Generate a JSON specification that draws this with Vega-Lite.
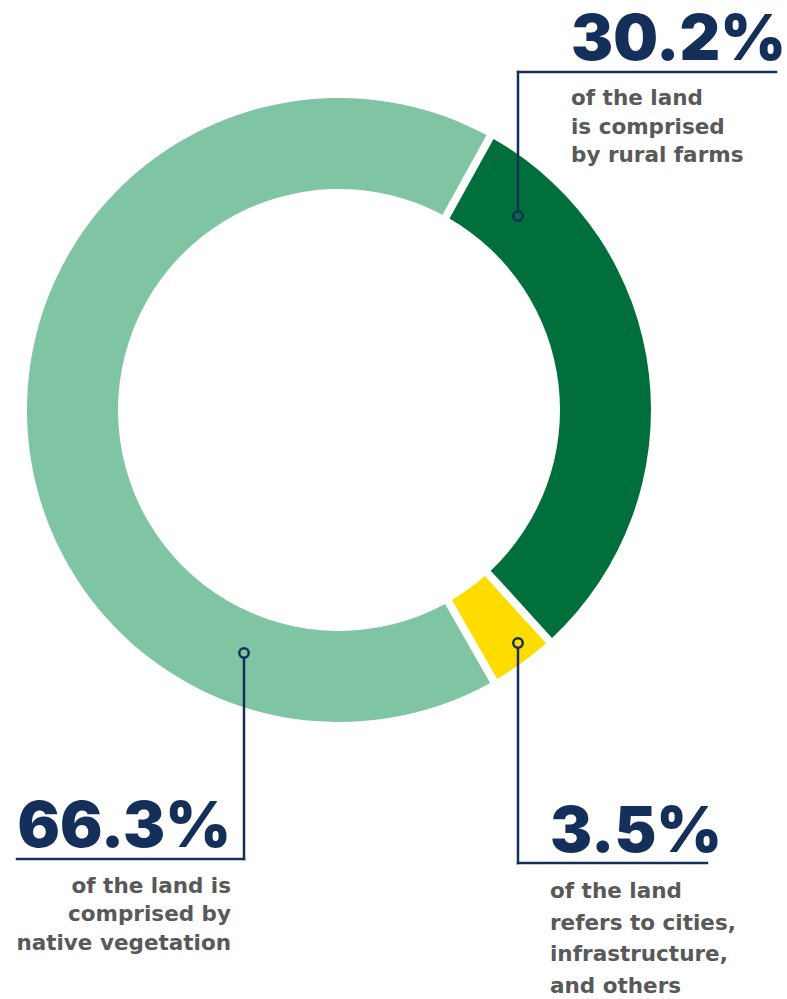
{
  "$schema": "https://vega.github.io/schema/vega-lite/v6.json",
  "width": 787,
  "height": 999,
  "autosize": {"type": "fit", "contains": "padding"},
  "padding": 0,
  "background": "white",
  "config": {"view": {"stroke": null}},
  "datasets": {
    "shares": [
      {"category": "Native vegetation", "share": 66.3},
      {"category": "Rural farms", "share": 30.2},
      {"category": "Cities, infrastructure and others", "share": 3.5}
    ],
    "leaders": [
      {"x": 518, "y": 211, "x2": 518, "y2": 72},
      {"x": 518, "y": 72, "x2": 776, "y2": 72},
      {"x": 244, "y": 658, "x2": 244, "y2": 859},
      {"x": 17, "y": 859, "x2": 244, "y2": 859},
      {"x": 518, "y": 648, "x2": 518, "y2": 863},
      {"x": 518, "y": 863, "x2": 707, "y2": 863}
    ],
    "dots": [
      {"x": 518, "y": 216},
      {"x": 244, "y": 653},
      {"x": 518, "y": 643}
    ],
    "figures": [
      {"label": "30.2%", "x": 571, "y": 60, "side": "left"},
      {"label": "66.3%", "x": 231, "y": 847, "side": "right"},
      {"label": "3.5%", "x": 550, "y": 852, "side": "left"}
    ],
    "notes": [
      {"label": "of the land\nis comprised\nby rural farms", "x": 571, "y": 105, "group": "a"},
      {"label": "of the land is\ncomprised by\nnative vegetation", "x": 231, "y": 893, "group": "b"},
      {"label": "of the land\nrefers to cities,\ninfrastructure,\nand others", "x": 550, "y": 898, "group": "c"}
    ]
  },
  "layer": [
    {
      "data": {"name": "shares"},
      "mark": {"type": "arc", "innerRadius": 221, "outerRadius": 312, "padAngle": 0.021},
      "encoding": {
        "x": {"datum": 339, "type": "quantitative", "scale": {"domain": [0, 787], "nice": false, "zero": false}, "axis": null},
        "y": {"datum": 410, "type": "quantitative", "scale": {"domain": [0, 999], "nice": false, "zero": false, "reverse": true}, "axis": null},
        "theta": {"field": "share", "type": "quantitative", "stack": true, "scale": {"domain": [0, 100], "range": [2.623, 8.906]}},
        "order": {"field": "share", "sort": "descending"},
        "color": {
          "field": "category",
          "type": "nominal",
          "scale": {
            "domain": ["Native vegetation", "Rural farms", "Cities, infrastructure and others"],
            "range": ["#7fc4a3", "#006f3b", "#ffdc00"]
          },
          "legend": null
        }
      }
    },
    {
      "data": {"name": "leaders"},
      "mark": {"type": "rule", "color": "#14305a", "strokeWidth": 2.5, "strokeCap": "square"},
      "encoding": {
        "x": {"field": "x", "type": "quantitative", "scale": {"domain": [0, 787], "nice": false, "zero": false}, "axis": null},
        "x2": {"field": "x2"},
        "y": {"field": "y", "type": "quantitative", "scale": {"domain": [0, 999], "nice": false, "zero": false, "reverse": true}, "axis": null},
        "y2": {"field": "y2"}
      }
    },
    {
      "data": {"name": "dots"},
      "mark": {"type": "point", "shape": "circle", "filled": false, "size": 90, "strokeWidth": 2.5, "color": "#14305a", "opacity": 1},
      "encoding": {
        "x": {"field": "x", "type": "quantitative", "scale": {"domain": [0, 787], "nice": false, "zero": false}, "axis": null},
        "y": {"field": "y", "type": "quantitative", "scale": {"domain": [0, 999], "nice": false, "zero": false, "reverse": true}, "axis": null}
      }
    },
    {
      "data": {"name": "figures"},
      "transform": [{"filter": "datum.side === 'left'"}],
      "mark": {"type": "text", "align": "left", "baseline": "alphabetic", "font": "Inter", "fontWeight": 900, "fontSize": 63, "color": "#14305a"},
      "encoding": {
        "x": {"field": "x", "type": "quantitative", "scale": {"domain": [0, 787], "nice": false, "zero": false}, "axis": null},
        "y": {"field": "y", "type": "quantitative", "scale": {"domain": [0, 999], "nice": false, "zero": false, "reverse": true}, "axis": null},
        "text": {"field": "label"}
      }
    },
    {
      "data": {"name": "figures"},
      "transform": [{"filter": "datum.side === 'right'"}],
      "mark": {"type": "text", "align": "right", "baseline": "alphabetic", "font": "Inter", "fontWeight": 900, "fontSize": 63, "color": "#14305a"},
      "encoding": {
        "x": {"field": "x", "type": "quantitative", "scale": {"domain": [0, 787], "nice": false, "zero": false}, "axis": null},
        "y": {"field": "y", "type": "quantitative", "scale": {"domain": [0, 999], "nice": false, "zero": false, "reverse": true}, "axis": null},
        "text": {"field": "label"}
      }
    },
    {
      "data": {"name": "notes"},
      "transform": [{"filter": "datum.group === 'a'"}],
      "mark": {"type": "text", "align": "left", "baseline": "alphabetic", "lineBreak": "\n", "lineHeight": 28.7, "font": "DejaVu Sans", "fontWeight": "bold", "fontSize": 21.5, "color": "#595959"},
      "encoding": {
        "x": {"field": "x", "type": "quantitative", "scale": {"domain": [0, 787], "nice": false, "zero": false}, "axis": null},
        "y": {"field": "y", "type": "quantitative", "scale": {"domain": [0, 999], "nice": false, "zero": false, "reverse": true}, "axis": null},
        "text": {"field": "label"}
      }
    },
    {
      "data": {"name": "notes"},
      "transform": [{"filter": "datum.group === 'b'"}],
      "mark": {"type": "text", "align": "right", "baseline": "alphabetic", "lineBreak": "\n", "lineHeight": 28.4, "font": "DejaVu Sans", "fontWeight": "bold", "fontSize": 21.5, "color": "#595959"},
      "encoding": {
        "x": {"field": "x", "type": "quantitative", "scale": {"domain": [0, 787], "nice": false, "zero": false}, "axis": null},
        "y": {"field": "y", "type": "quantitative", "scale": {"domain": [0, 999], "nice": false, "zero": false, "reverse": true}, "axis": null},
        "text": {"field": "label"}
      }
    },
    {
      "data": {"name": "notes"},
      "transform": [{"filter": "datum.group === 'c'"}],
      "mark": {"type": "text", "align": "left", "baseline": "alphabetic", "lineBreak": "\n", "lineHeight": 31.7, "font": "DejaVu Sans", "fontWeight": "bold", "fontSize": 21.5, "color": "#595959"},
      "encoding": {
        "x": {"field": "x", "type": "quantitative", "scale": {"domain": [0, 787], "nice": false, "zero": false}, "axis": null},
        "y": {"field": "y", "type": "quantitative", "scale": {"domain": [0, 999], "nice": false, "zero": false, "reverse": true}, "axis": null},
        "text": {"field": "label"}
      }
    }
  ]
}
